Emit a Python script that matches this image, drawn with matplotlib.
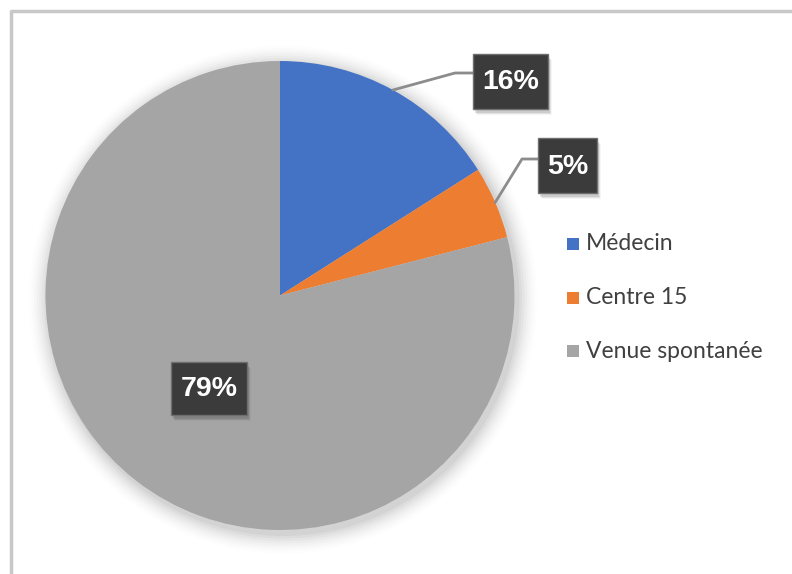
import matplotlib
matplotlib.use("Agg")
import matplotlib.pyplot as plt
from matplotlib.patches import Rectangle, Circle
import numpy as np

# Data
categories = ["Médecin", "Centre 15", "Venue spontanée"]
shares = [16, 5, 79]
colors = ["#4472C4", "#ED7D31", "#A5A5A5"]

W, H = 792, 574
fig = plt.figure(figsize=(W / 100, H / 100), dpi=100)
ax = fig.add_axes([0, 0, 1, 1])
ax.set_xlim(0, W)
ax.set_ylim(0, H)
ax.set_aspect("equal")
ax.axis("off")

# Chart frame (top and left edges visible)
ax.plot([10.5, 10.5, W], [0, H - 11, H - 11], color="#c8c8c8", lw=2.5,
        solid_capstyle="butt", zorder=1)

cx, cy, R = 280, H - 295.5, 234.5

# Soft shadow under the pie
for i, a in enumerate(np.linspace(0.035, 0.006, 8)):
    ax.add_patch(Circle((cx + 3, cy - 4), R + 2 + i * 2.5, color="black",
                        alpha=a, lw=0, zorder=1.5))

wedges, _ = ax.pie(shares, colors=colors, startangle=90, counterclock=False,
                   center=(cx, cy), radius=R, frame=True,
                   wedgeprops=dict(linewidth=0, zorder=2))
ax.set_xlim(0, W)
ax.set_ylim(0, H)
ax.axis("off")

total = sum(shares)


def mid_point(idx, r=R):
    start = 90 - 360 * sum(shares[:idx]) / total
    end = 90 - 360 * sum(shares[:idx + 1]) / total
    th = np.deg2rad((start + end) / 2)
    return cx + r * np.cos(th), cy + r * np.sin(th)


def label_box(xc, yc, w, h, text):
    # shadow
    for k, a in enumerate([0.10, 0.07, 0.04]):
        ax.add_patch(Rectangle((xc - w / 2 + 2 + k, yc - h / 2 - 4 - k), w, h,
                               facecolor="black", alpha=a, lw=0, zorder=5))
    ax.add_patch(Rectangle((xc - w / 2, yc - h / 2), w, h, facecolor="#3b3b3b",
                           edgecolor="#6e6e6e", lw=1, zorder=6))
    ax.text(xc, yc - 1, text, ha="center", va="center", color="white",
            fontsize=20.5, fontweight="bold", family="Liberation Sans", zorder=7)


leader_kw = dict(color="#8c8c8c", lw=2, zorder=4, solid_capstyle="round")

# 16 %
x0, y0 = mid_point(0)
ax.plot([x0, 455, 473], [y0, H - 73, H - 73], **leader_kw)
label_box(510.5, H - 81, 75, 55, f"{shares[0]}%")

# 5 %
x0, y0 = mid_point(1)
ax.plot([x0, 522, 538], [y0, H - 159, H - 159], **leader_kw)
label_box(567.5, H - 165.5, 59, 55, f"{shares[1]}%")

# 79 %
label_box(209, H - 388.5, 76, 53, f"{shares[2]}%")

# Legend
legend_y = [244, 298, 351]
for name, col, ly in zip(categories, colors, legend_y):
    ax.add_patch(Rectangle((567, H - ly - 6), 12, 12, facecolor=col, lw=0, zorder=3))
    ax.text(586, H - ly, name, ha="left", va="center", color="#404040",
            fontsize=16.5, family="Lato", zorder=3)

fig.savefig("out.png", dpi=100)
